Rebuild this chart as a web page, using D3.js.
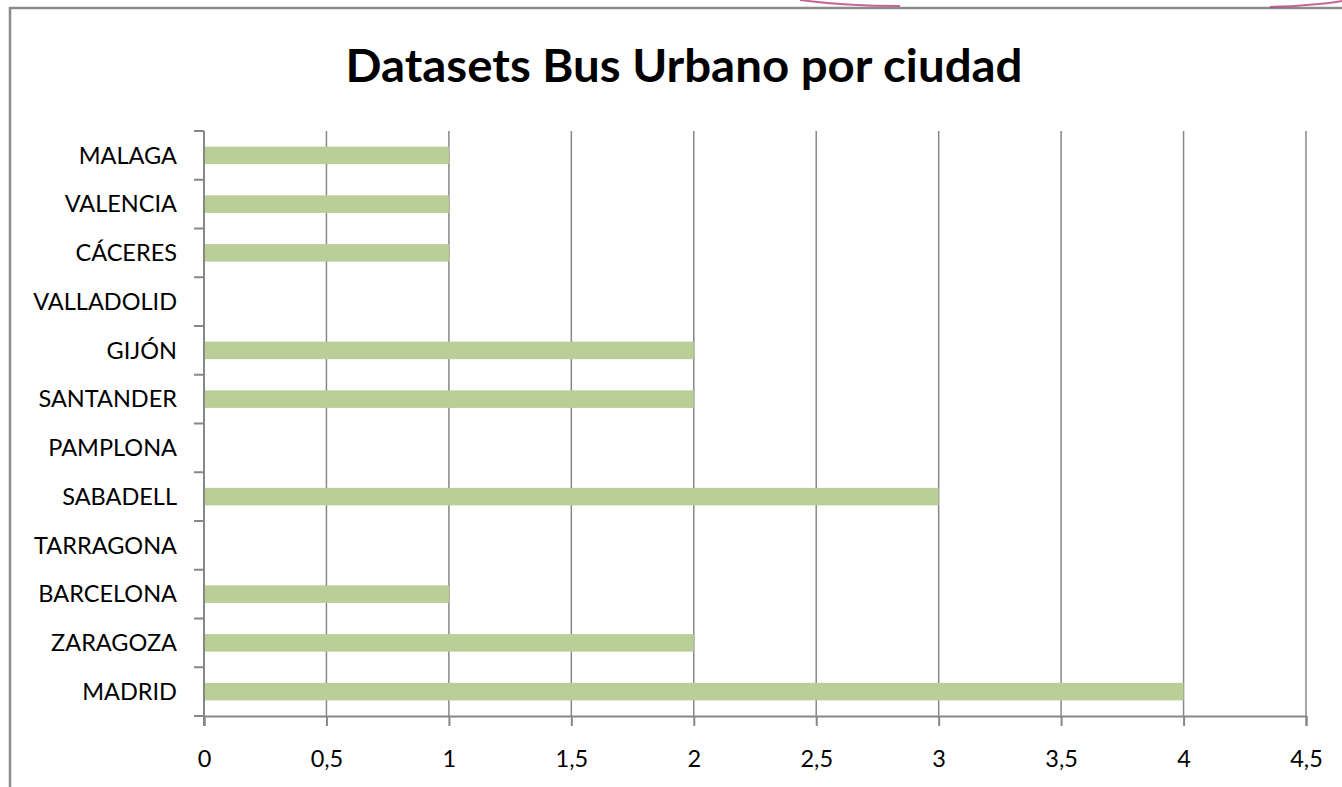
<!DOCTYPE html>
<html>
<head>
<meta charset="utf-8">
<script src="https://cdn.jsdelivr.net/npm/d3@7"></script>
<style>
  body { margin: 0; background: #fff; }
  svg { display: block; font-family: Lato, "Open Sans", sans-serif; }
</style>
</head>
<body>
<div id="chart"></div>
<script>
// cities, bottom to top as in the picture
var cities = ["MADRID", "ZARAGOZA", "BARCELONA", "TARRAGONA", "SABADELL", "PAMPLONA",
              "SANTANDER", "GIJÓN", "VALLADOLID", "CÁCERES", "VALENCIA", "MALAGA"];
var datasets = [4, 2, 1, 0, 3, 0, 2, 2, 0, 1, 1, 1];
var xTicks = [0, 0.5, 1, 1.5, 2, 2.5, 3, 3.5, 4, 4.5];
var title = "Datasets Bus Urbano por ciudad";

var W = 1342, H = 787;
var m = {left: 204, right: 36, top: 131, bottom: 71};
var axisCol = "#878787";

var svg = d3.select("#chart").append("svg")
    .attr("width", W).attr("height", H);

// frame of the chart object
svg.append("path")
    .attr("d", "M 10 " + H + " L 10 8 L " + W + " 8")
    .attr("fill", "none").attr("stroke", "#8c8c8c").attr("stroke-width", 2.5);

// bits of the slide decoration peeking over the frame
svg.append("path")
    .attr("d", "M 800 0 C 830 4 860 6 900 6")
    .attr("fill", "none").attr("stroke", "#b8407e").attr("stroke-width", 2).attr("opacity", 0.8);
svg.append("path")
    .attr("d", "M 1270 7 C 1305 6 1330 3 1342 1")
    .attr("fill", "none").attr("stroke", "#b8407e").attr("stroke-width", 2).attr("opacity", 0.8);

svg.append("text")
    .attr("x", 684).attr("y", 82)
    .attr("text-anchor", "middle")
    .attr("font-size", 46).attr("font-weight", "bold")
    .attr("textLength", 677).attr("lengthAdjust", "spacingAndGlyphs")
    .attr("fill", "#000")
    .text(title);

var x = d3.scaleLinear().domain([0, 4.5]).range([m.left, W - m.right]);
var y = d3.scaleBand().domain(cities).range([H - m.bottom, m.top]).paddingInner(0.64).paddingOuter(0.32);

// vertical gridlines
svg.append("g").selectAll("line").data(xTicks.slice(1)).join("line")
    .attr("x1", function(d){ return x(d); }).attr("x2", function(d){ return x(d); })
    .attr("y1", m.top).attr("y2", H - m.bottom)
    .attr("stroke", axisCol).attr("stroke-width", 1.5);

// bars
svg.append("g").selectAll("rect").data(cities).join("rect")
    .attr("x", x(0))
    .attr("y", function(d){ return y(d); })
    .attr("width", function(d, i){ return x(datasets[i]) - x(0); })
    .attr("height", y.bandwidth())
    .attr("fill", "#b9cf97");

// x axis
var xAxis = d3.axisBottom(x).tickValues(xTicks)
    .tickFormat(function(d){ return String(d).replace(".", ","); })
    .tickSize(10).tickPadding(24);
var gx = svg.append("g").attr("transform", "translate(0," + (H - m.bottom) + ")").call(xAxis);

// y axis: ticks sit on the category boundaries
var step = y.step();
var boundaries = d3.range(cities.length + 1).map(function(i){ return m.top + i * step; });
var gy = svg.append("g");
gy.append("line").attr("x1", m.left).attr("x2", m.left)
    .attr("y1", m.top).attr("y2", H - m.bottom + 10);
gy.selectAll("line.tk").data(boundaries).join("line").attr("class", "tk")
    .attr("x1", m.left - 10).attr("x2", m.left)
    .attr("y1", function(d){ return d; }).attr("y2", function(d){ return d; });
gy.selectAll("line").attr("stroke", axisCol).attr("stroke-width", 2);
gy.selectAll("text").data(cities).join("text")
    .attr("x", 177)
    .attr("y", function(d){ return y(d) + y.bandwidth() / 2; })
    .attr("dy", "0.35em")
    .attr("text-anchor", "end")
    .attr("font-size", 23.5).attr("fill", "#000")
    .text(function(d){ return d; });

gx.select(".domain").attr("stroke", axisCol).attr("stroke-width", 2);
gx.selectAll(".tick line").attr("stroke", axisCol).attr("stroke-width", 2);
gx.selectAll(".tick text").attr("font-size", 23.5).attr("fill", "#000")
    .attr("font-family", "Lato, sans-serif");
</script>
</body>
</html>
